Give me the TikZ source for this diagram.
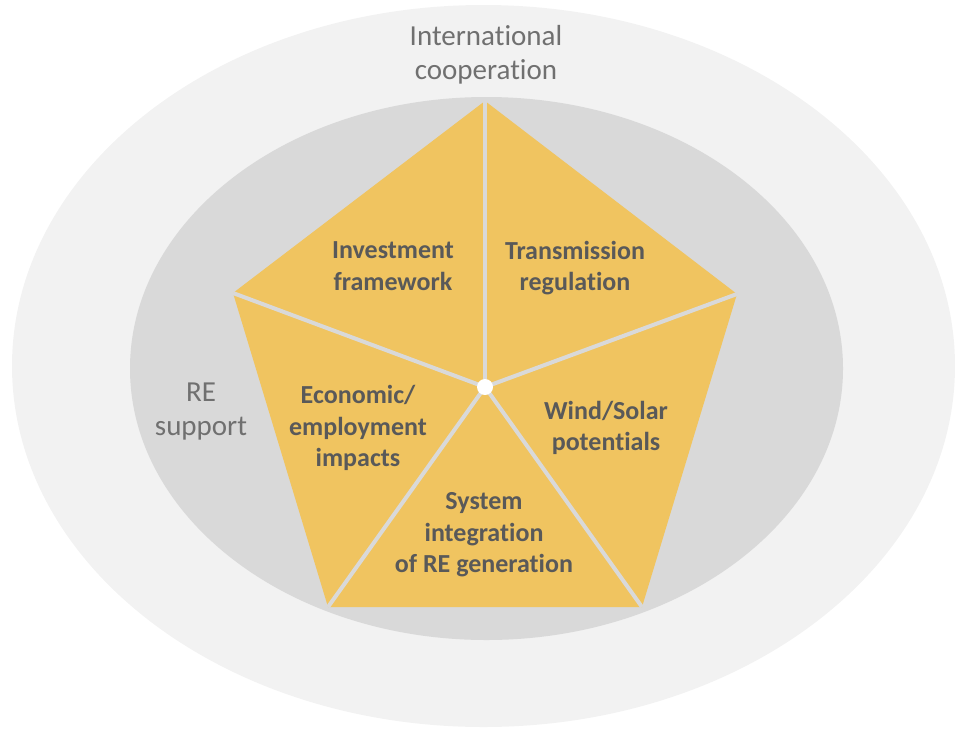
\documentclass[tikz,border=0pt]{standalone}
\usepackage{fontspec}
\setmainfont{Carlito}[RawFeature={-liga;-clig;-calt;-dlig}]
\definecolor{ringout}{HTML}{F2F2F2}
\definecolor{ringin}{HTML}{D9D9D9}
\definecolor{petal}{HTML}{F0C460}
\definecolor{darktext}{HTML}{595959}
\definecolor{greytext}{HTML}{707070}
\tikzset{
  sector/.style={fill=petal},
  spoke/.style={draw=ringin, line width=4pt},
  hub/.style={circle, fill=white, inner sep=0pt, minimum size=16pt},
  outerlabel/.style={align=center, text=greytext, font=\fontsize{29}{34}\selectfont},
  innerlabel/.style={align=center, text=darktext, font=\fontsize{26}{31.5}\selectfont\bfseries}
}
\begin{document}
\begin{tikzpicture}[x=1pt,y=-1pt]
    \useasboundingbox (0,0) rectangle (955,729);
    \clip (0,0) rectangle (955,729);
    \fill[ringout] (483.5,366) ellipse [x radius=471.5, y radius=361];
    \fill[ringin] (486.5,368.5) ellipse [x radius=356.5, y radius=271.5];
    % pentagon corners and middle
    \coordinate (c) at (485,387);
    \coordinate (p1) at (485,101);
    \coordinate (p2) at (737,294);
    \coordinate (p3) at (642,607);
    \coordinate (p4) at (328,607);
    \coordinate (p5) at (233,293);
    \fill[sector] (p1) -- (p2) -- (p3) -- (p4) -- (p5) -- cycle;
    \foreach \v in {p1,p2,p3,p4,p5}
      \draw[spoke] (c) -- (\v);
    \node[hub] (hub) at (c) {};
    % labels
    \node[outerlabel] (intl) at (486,55) {International\\cooperation};
    \node[outerlabel] (resup) at (201,412) {RE\\support};
    \node[innerlabel] (invest) at (393,266) {Investment\\framework};
    \node[innerlabel] (trans) at (575,268) {Transmission\\regulation};
    \node[innerlabel] (econ) at (358,428) {Economic/\\employment\\impacts};
    \node[innerlabel] (wind) at (606,428) {Wind/Solar\\potentials};
    \node[innerlabel] (sysint) at (484,535) {System\\integration\\of RE generation};
\end{tikzpicture}
\end{document}
